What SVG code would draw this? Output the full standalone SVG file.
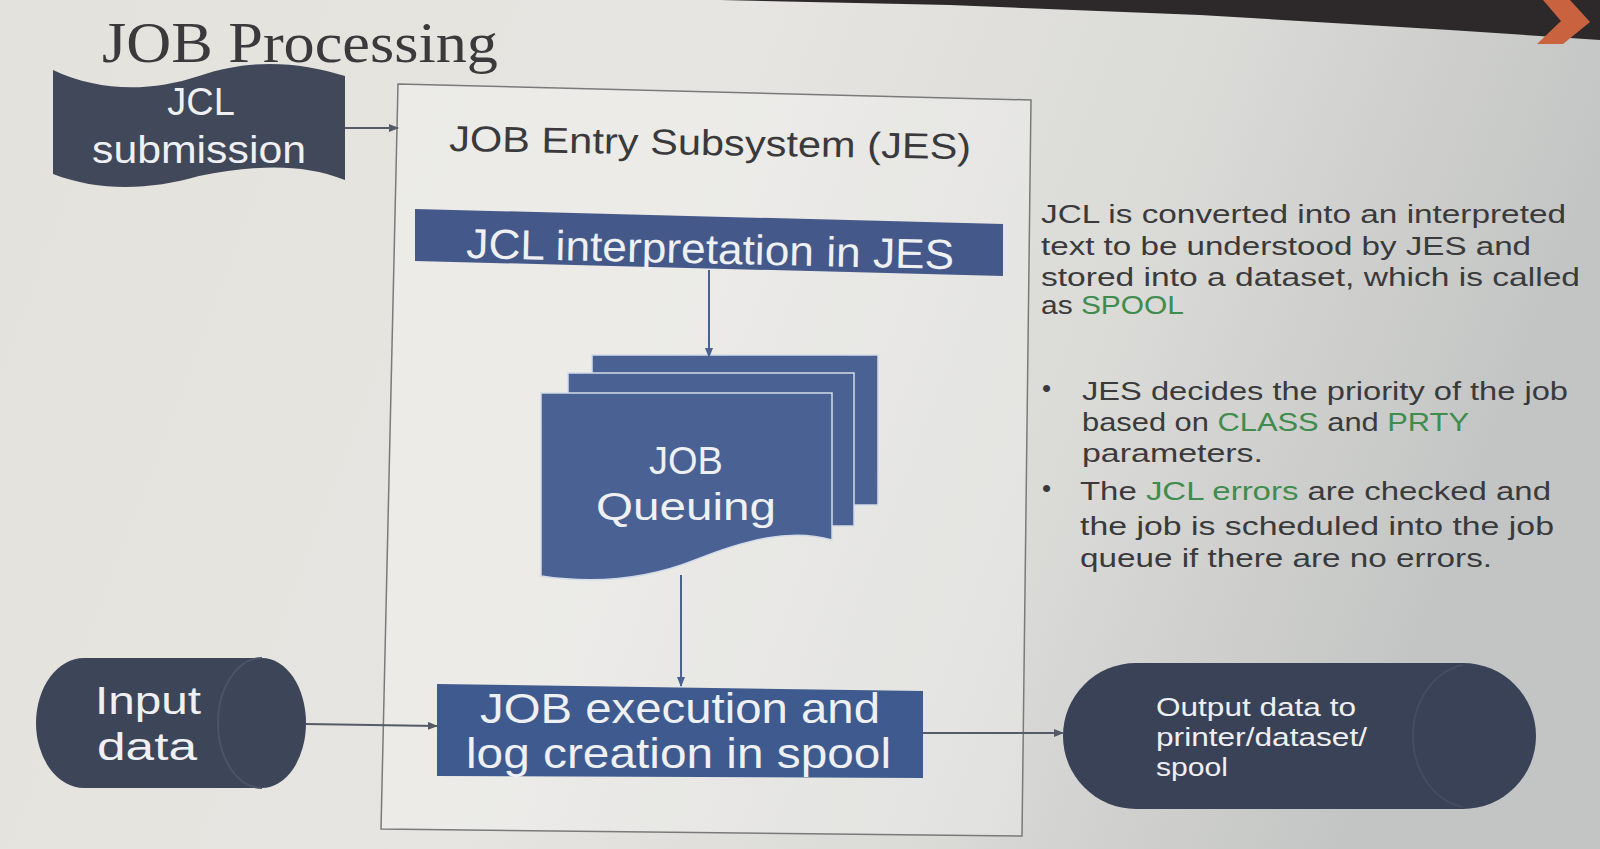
<svg xmlns="http://www.w3.org/2000/svg" width="1600" height="849" viewBox="0 0 1600 849">
<defs>
<linearGradient id="bg" x1="0" y1="0" x2="1" y2="0.2">
<stop offset="0" stop-color="#e4e2dc"/>
<stop offset="0.45" stop-color="#e6e5e1"/>
<stop offset="0.75" stop-color="#dadad7"/>
<stop offset="1" stop-color="#c3c5c4"/>
</linearGradient>
<marker id="arr" markerWidth="10" markerHeight="8" refX="9" refY="4" orient="auto" markerUnits="userSpaceOnUse">
<path d="M0,0 L10,4 L0,8 Z" fill="#555b66"/>
</marker>
<marker id="arrb" markerWidth="10" markerHeight="8" refX="9" refY="4" orient="auto" markerUnits="userSpaceOnUse">
<path d="M0,0 L10,4 L0,8 Z" fill="#4a6194"/>
</marker>
</defs>
<style>
.sans{font-family:"Liberation Sans",Arial,sans-serif}
.wt{fill:#eef0f3}
.dk{fill:#3a3a3c}
.gr{fill:#3f8c4e}
.line{stroke:#555b66;stroke-width:2;fill:none}
.vline{stroke:#4a6194;stroke-width:2;fill:none}
.sheet{fill:#4a6194;stroke:#d3dbe8;stroke-width:1.5}
</style>
<rect width="1600" height="849" fill="url(#bg)"/>
<polygon points="480,0 1600,0 1600,40 1450,30 1200,15 950,5 720,0" fill="#2d292b"/>
<polygon points="1543,0 1570,0 1590,22 1563,44 1537,44 1561,21" fill="#c9633f"/>

<g id="title">
<text x="102" y="62" font-family="Liberation Serif,Times New Roman,serif" font-size="58" fill="#3a3a3c" textLength="396" lengthAdjust="spacingAndGlyphs">JOB Processing</text>
</g>

<g id="jes-box">
<polygon points="398,84 1031,100 1022,836 381,829" fill="#ffffff" fill-opacity="0.25" stroke="#7a7a7a" stroke-width="1.5"/>
<text class="sans dk" x="449" y="151" font-size="36" textLength="522" lengthAdjust="spacingAndGlyphs" transform="rotate(0.9 449 151)">JOB Entry Subsystem (JES)</text>
</g>

<g id="jcl-submission">
<path d="M53,70 C100,92 150,92 199,76 C250,58 300,62 345,76 L345,180 C300,162 250,166 199,176 C150,190 100,192 53,174 Z" fill="#414859"/>
<text class="sans wt" x="201" y="115" font-size="38" text-anchor="middle">JCL</text>
<text class="sans wt" x="199" y="163" font-size="38" text-anchor="middle" textLength="214" lengthAdjust="spacingAndGlyphs">submission</text>
</g>

<g id="jcl-interpretation">
<polygon points="415,209 1003,224 1003,276 415,261" fill="#44598a"/>
<text class="sans wt" x="466" y="258" font-size="42" textLength="488" lengthAdjust="spacingAndGlyphs" transform="rotate(1.3 466 258)">JCL interpretation in JES</text>
</g>

<g id="job-queuing">
<rect class="sheet" x="592" y="355" width="286" height="150"/>
<rect class="sheet" x="568" y="373" width="286" height="153"/>
<path class="sheet" d="M541,393 L832,393 L832,540 C790,528 745,540 695,560 C645,580 595,584 541,576 Z"/>
<text class="sans wt" x="686" y="474" font-size="38" text-anchor="middle">JOB</text>
<text class="sans wt" x="686" y="520" font-size="38" text-anchor="middle" textLength="180" lengthAdjust="spacingAndGlyphs">Queuing</text>
</g>

<g id="job-execution">
<polygon points="437,684 923,691 923,778 437,776" fill="#3f5a8e"/>
<text class="sans wt" x="480" y="723" font-size="42" textLength="400" lengthAdjust="spacingAndGlyphs">JOB execution and</text>
<text class="sans wt" x="466" y="768" font-size="42" textLength="425" lengthAdjust="spacingAndGlyphs">log creation in spool</text>
</g>

<g id="input-data">
<path d="M84,658 L262,658 A44,65 0 0 1 262,788 L84,788 A48,65 0 0 1 84,658 Z" fill="#3d4559"/>
<path d="M262,658 A44,65 0 0 0 262,788" fill="none" stroke="#4b5468" stroke-width="2"/>
<text class="sans wt" x="95" y="714" font-size="38" textLength="106" lengthAdjust="spacingAndGlyphs">Input</text>
<text class="sans wt" x="97" y="760" font-size="38" textLength="100" lengthAdjust="spacingAndGlyphs">data</text>
</g>

<g id="output-data">
<rect x="1063" y="663" width="473" height="146" rx="73" ry="73" fill="#3a4257"/>
<path d="M1463,665 A60,72 0 0 0 1463,807" fill="none" stroke="#444d63" stroke-width="2"/>
<text class="sans wt" x="1156" y="716" font-size="26" textLength="200" lengthAdjust="spacingAndGlyphs">Output data to</text>
<text class="sans wt" x="1156" y="746" font-size="26" textLength="211" lengthAdjust="spacingAndGlyphs">printer/dataset/</text>
<text class="sans wt" x="1156" y="776" font-size="26" textLength="72" lengthAdjust="spacingAndGlyphs">spool</text>
</g>

<g id="connectors">
<line class="line" x1="345" y1="128" x2="398" y2="128" marker-end="url(#arr)"/>
<line class="vline" x1="709" y1="270" x2="709" y2="357" marker-end="url(#arrb)"/>
<line class="vline" x1="681" y1="575" x2="681" y2="686" marker-end="url(#arrb)"/>
<line class="line" x1="306" y1="724" x2="437" y2="726" marker-end="url(#arr)"/>
<line class="line" x1="923" y1="733" x2="1063" y2="733" marker-end="url(#arr)"/>
</g>

<g id="description" class="sans" font-size="26">
<text class="dk" x="1041" y="223" textLength="525" lengthAdjust="spacingAndGlyphs">JCL is converted into an interpreted</text>
<text class="dk" x="1041" y="255" textLength="490" lengthAdjust="spacingAndGlyphs">text to be understood by JES and</text>
<text class="dk" x="1041" y="286" textLength="539" lengthAdjust="spacingAndGlyphs">stored into a dataset, which is called</text>
<text class="dk" x="1041" y="314" textLength="143" lengthAdjust="spacingAndGlyphs">as <tspan class="gr">SPOOL</tspan></text>
</g>

<g id="bullets" class="sans" font-size="26">
<text class="dk" x="1042" y="397">•</text>
<text class="dk" x="1082" y="400" textLength="486" lengthAdjust="spacingAndGlyphs">JES decides the priority of the job</text>
<text class="dk" x="1082" y="431" textLength="387" lengthAdjust="spacingAndGlyphs">based on <tspan class="gr">CLASS</tspan> and <tspan class="gr">PRTY</tspan></text>
<text class="dk" x="1082" y="462" textLength="181" lengthAdjust="spacingAndGlyphs">parameters.</text>
<text class="dk" x="1042" y="497">•</text>
<text class="dk" x="1080" y="500" textLength="471" lengthAdjust="spacingAndGlyphs">The <tspan class="gr">JCL errors</tspan> are checked and</text>
<text class="dk" x="1080" y="535" textLength="474" lengthAdjust="spacingAndGlyphs">the job is scheduled into the job</text>
<text class="dk" x="1080" y="567" textLength="412" lengthAdjust="spacingAndGlyphs">queue if there are no errors.</text>
</g>
</svg>
